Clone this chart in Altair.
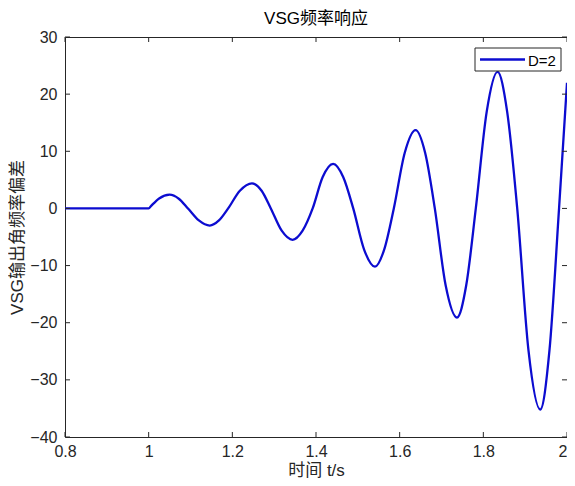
import altair as alt
import pandas as pd

# Curve values
t_vals = [0.80, 1.000, 1.006, 1.025, 1.050, 1.072, 1.094, 1.120, 1.146, 1.168, 1.190,
          1.218, 1.247, 1.270, 1.292, 1.318, 1.344, 1.368, 1.392, 1.416, 1.441,
          1.465, 1.489, 1.515, 1.541, 1.563, 1.586, 1.612, 1.638, 1.661, 1.684,
          1.710, 1.737, 1.759, 1.782, 1.808, 1.834, 1.857, 1.881, 1.908, 1.936,
          1.958, 1.981, 2.000]
y_vals = [0.0, 0.0, 0.45, 1.75, 2.4, 1.7, 0.0, -2.1, -3.0, -2.1, 0.0,
          3.1, 4.4, 3.1, 0.0, -3.9, -5.5, -3.9, 0.0, 5.5, 7.8,
          5.5, 0.0, -7.2, -10.2, -7.2, 0.0, 9.7, 13.7, 9.7, 0.0,
          -13.5, -19.1, -13.5, 0.0, 16.9, 23.9, 16.9, 0.0, -24.9, -35.2,
          -24.9, 0.0, 22.0]

x_ticks = [0.8, 1.0, 1.2, 1.4, 1.6, 1.8, 2.0]
y_ticks = [-40, -30, -20, -10, 0, 10, 20, 30]
series_label = ["D=2"]
chart_title = "VSG频率响应"
x_title = "时间 t/s"
y_title = "VSG输出角频率偏差"

W, H = 502, 400
FONT = "Liberation Sans, Noto Sans CJK SC"
AX = "#262626"
BLUE = "#0c0cd0"

df = pd.DataFrame({"t": t_vals, "y": y_vals})
xs = alt.Scale(domain=[0.8, 2.0], nice=False, zero=False)
ys = alt.Scale(domain=[-40, 30], nice=False, zero=False)
x_axis = alt.Axis(values=x_ticks, format="~g", title=x_title, tickSize=0, labelFlush=False,
                  labelAlign=alt.expr("datum.value >= 1.99 ? 'right' : 'center'"),
                  domain=False, grid=False, labelPadding=6, titlePadding=3,
                  labelFont=FONT, labelFontSize=16, labelColor=AX, titleFont=FONT,
                  titleFontSize=17, titleColor=AX, titleFontWeight="normal")
y_axis = alt.Axis(values=y_ticks, title=y_title, tickSize=0, labelFlush=False,
                  domain=False, grid=False, labelPadding=8, titlePadding=3,
                  labelFont=FONT, labelFontSize=16, labelColor=AX, titleFont=FONT,
                  titleFontSize=17, titleColor=AX, titleFontWeight="normal")

line = alt.Chart(df).mark_line(color=BLUE, strokeWidth=2.3, interpolate="monotone", clip=True).encode(
    x=alt.X("t:Q", scale=xs, axis=x_axis),
    y=alt.Y("y:Q", scale=ys, axis=y_axis),
)

xt = pd.DataFrame({"t": x_ticks})
yt = pd.DataFrame({"y": y_ticks})
xtick_b = alt.Chart(xt).mark_rule(color=AX, strokeWidth=1).encode(
    x=alt.X("t:Q", scale=xs, axis=x_axis), y=alt.value(H), y2=alt.value(H - 5))
xtick_t = alt.Chart(xt).mark_rule(color=AX, strokeWidth=1).encode(
    x=alt.X("t:Q", scale=xs, axis=x_axis), y=alt.value(0), y2=alt.value(5))
ytick_l = alt.Chart(yt).mark_rule(color=AX, strokeWidth=1).encode(
    y=alt.Y("y:Q", scale=ys, axis=y_axis), x=alt.value(0), x2=alt.value(5))
ytick_r = alt.Chart(yt).mark_rule(color=AX, strokeWidth=1).encode(
    y=alt.Y("y:Q", scale=ys, axis=y_axis), x=alt.value(W), x2=alt.value(W - 5))

leg = pd.DataFrame({"label": series_label})
box = alt.Chart(leg).mark_rect(fill="white", stroke=AX, strokeWidth=1).encode(
    x=alt.value(W - 92), x2=alt.value(W - 6), y=alt.value(11), y2=alt.value(34))
leg_line = alt.Chart(leg).mark_rule(color=BLUE, strokeWidth=2.5).encode(
    x=alt.value(W - 87), x2=alt.value(W - 42), y=alt.value(22.5))
leg_text = alt.Chart(leg).mark_text(align="left", baseline="middle", font=FONT, fontSize=15,
                                    color="black").encode(
    x=alt.value(W - 39), y=alt.value(23.5), text="label:N")

chart = alt.layer(line, xtick_b, xtick_t, ytick_l, ytick_r, box, leg_line, leg_text).properties(
    width=W, height=H,
    background="white",
    title=alt.TitleParams(text=chart_title, font=FONT, fontSize=17, fontWeight="normal",
                          color="black", anchor="middle", offset=1),
    autosize="none",
    padding={"left": 57, "top": 29, "right": 0, "bottom": 41},
).configure_view(stroke=AX, strokeWidth=1)

chart.save("out.html", embed_options={"renderer": "svg", "actions": False})
